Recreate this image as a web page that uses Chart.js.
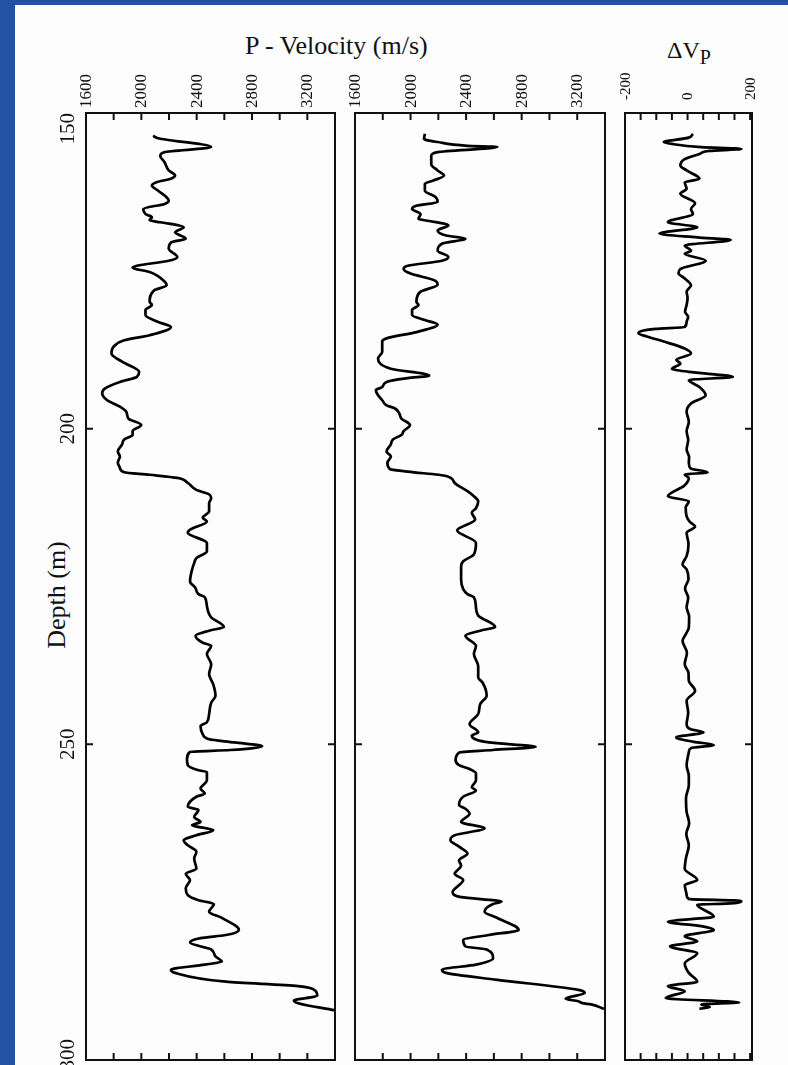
<!DOCTYPE html>
<html>
<head>
<meta charset="utf-8">
<script src="https://cdn.jsdelivr.net/npm/chart.js@4/dist/chart.umd.min.js"></script>
<style>
  html, body { margin:0; padding:0; background:#fdfdfd; }
  body { width:788px; height:1065px; position:relative; overflow:hidden; font-family:'Liberation Serif', serif; color:#000; }
  canvas { position:absolute; top:0; }
  .blue { position:absolute; background:#2451a5; z-index:5; }
  .txt { position:absolute; white-space:nowrap; font-family:'Liberation Serif', serif; color:#111; }
</style>
</head>
<body>
<div class="blue" style="left:0;top:0;width:788px;height:5px"></div>
<div class="blue" style="left:0;top:0;width:15px;height:1065px"></div>

<div class="txt" style="left:245px;top:33px;font-size:26px;line-height:26px">P - Velocity (m/s)</div>
<div class="txt" style="left:667px;top:38px;font-size:24px;line-height:24px">ΔV<span style="font-size:20px;position:relative;top:6px">P</span></div>
<div class="txt" style="left:-43px;top:582px;width:200px;height:26px;font-size:26px;line-height:26px;text-align:center;transform:rotate(-90deg)">Depth (m)</div>

<canvas id="c1" width="345" height="1065" style="left:0"></canvas>
<canvas id="c2" width="270" height="1065" style="left:345px"></canvas>
<canvas id="c3" width="173" height="1065" style="left:615px"></canvas>

<script>
// ---------- DATA ----------
const depthTicks = [150, 200, 250, 300];
const velocityTickLabels = [1600, 2000, 2400, 2800, 3200];
const dvpTickLabels = [-200, 0, 200];

// Panel 1: P-velocity (m/s) vs depth (m)
const depth1 = [153.6,154.0,155.4,156.2,156.8,157.8,159.1,159.9,160.4,161.0,161.5,162.3,163.9,164.4,165.2,166.0,166.5,167.0,167.3,168.1,168.9,169.9,170.5,171.5,172.8,173.4,174.2,174.5,175.2,176.7,177.3,178.1,179.9,180.4,181.2,182.0,183.1,183.9,185.2,186.0,187.0,188.1,189.4,191.0,191.8,192.6,193.6,194.4,195.5,196.5,197.3,198.4,199.4,200.4,201.0,201.7,202.5,203.6,204.4,205.4,206.2,206.9,207.3,207.8,208.6,209.7,210.4,211.0,211.8,213.1,214.1,214.7,216.0,216.5,218.1,219.4,220.5,221.3,222.3,224.2,225.2,226.2,226.7,228.1,229.9,231.4,232.0,232.8,233.9,234.4,235.7,237.3,238.9,240.5,242.3,243.4,245.2,246.5,247.1,248.4,249.2,249.7,250.3,250.9,251.2,252.3,253.3,254.1,254.4,255.7,257.0,257.8,258.3,259.9,260.4,261.5,262.3,262.8,263.6,264.4,265.2,266.0,267.0,268.1,269.7,270.5,271.5,272.8,273.9,274.7,275.3,276.5,277.5,279.4,280.2,280.7,281.4,282.5,283.6,284.4,284.9,285.7,286.2,287.6,288.3,289.0,289.8,290.6,291.0,292.1];
const vel1 = [2085,2120,2505,2168,2137,2168,2198,2244,2214,2106,2076,2122,2198,2168,2014,2030,2076,2060,2137,2306,2244,2321,2214,2198,2260,2198,1968,1937,2060,2168,2183,2091,2060,2076,2030,2030,2122,2214,2060,1876,1800,1784,1861,1984,1968,1845,1738,1717,1753,1845,1891,1907,1999,1937,1937,1876,1861,1830,1845,1830,1845,1876,2060,2260,2336,2398,2490,2505,2490,2490,2444,2474,2352,2336,2474,2474,2398,2382,2367,2352,2390,2413,2459,2474,2505,2597,2490,2392,2444,2505,2474,2505,2490,2520,2536,2505,2490,2474,2428,2444,2490,2674,2873,2643,2352,2330,2336,2413,2474,2474,2428,2459,2398,2336,2413,2382,2428,2367,2520,2398,2306,2336,2398,2382,2398,2321,2352,2321,2336,2413,2525,2490,2582,2705,2612,2428,2352,2505,2536,2582,2459,2214,2244,2612,3134,3257,3272,3103,3134,3395];

// Panel 2: P-velocity (m/s) vs depth (m)
const depth2 = [153.3,154.1,154.6,155.2,155.4,156.2,156.8,158.1,159.1,159.9,160.7,161.2,162.3,163.3,164.1,164.7,165.2,166.0,166.8,167.1,167.8,168.6,169.4,169.9,170.7,171.8,172.8,173.4,174.2,174.7,175.4,176.6,177.2,178.3,179.9,180.4,181.2,182.0,182.8,183.5,184.7,185.7,186.2,187.8,188.9,190.5,191.6,192.0,192.6,193.4,193.9,194.7,195.5,196.3,196.8,197.6,198.4,199.4,200.4,201.0,201.7,202.5,203.6,204.4,205.4,206.4,206.8,207.5,208.6,209.9,210.7,211.5,212.6,213.3,214.4,216.1,218.1,219.9,221.0,221.8,223.9,225.4,226.2,226.7,228.3,229.6,231.4,232.0,232.8,234.4,235.7,237.6,239.4,240.2,242.3,243.6,245.2,246.8,248.1,248.6,249.7,250.4,250.9,251.3,252.5,253.3,253.9,254.6,255.7,256.8,257.3,258.3,259.6,260.2,261.0,262.3,263.3,264.4,265.2,266.2,267.3,268.4,269.2,270.5,271.5,273.4,274.2,274.9,275.3,276.5,277.5,279.4,280.2,281.0,282.0,282.5,283.9,284.9,285.7,286.2,287.3,288.9,289.4,290.3,290.7,291.0,291.2,291.9];
const vel2 = [2103,2097,2195,2410,2625,2195,2149,2149,2195,2241,2164,2103,2103,2180,2195,2042,2011,2072,2057,2134,2272,2195,2256,2395,2226,2195,2272,2226,1980,1950,1996,2180,2195,2072,2042,2057,2011,2011,2103,2195,2042,1827,1796,1796,1766,1858,2134,1980,1827,1796,1750,1766,1796,1827,1888,1919,1934,1996,1950,1934,1873,1858,1827,1858,1833,1852,1980,2256,2318,2410,2456,2487,2471,2441,2465,2335,2471,2456,2379,2364,2364,2379,2410,2456,2471,2487,2609,2502,2395,2471,2456,2487,2487,2518,2548,2502,2487,2425,2487,2441,2564,2901,2594,2349,2324,2349,2425,2471,2471,2441,2471,2379,2349,2395,2425,2364,2533,2318,2287,2349,2410,2349,2364,2318,2379,2303,2364,2655,2594,2533,2625,2778,2564,2379,2395,2548,2594,2471,2226,2256,2625,3208,3254,3116,3208,3238,3300,3392];

// Panel 3: Delta Vp vs depth (m)
const depth3 = [153.3,153.9,154.6,154.9,155.4,155.7,156.0,156.5,157.3,158.3,159.1,160.4,161.0,162.0,162.8,164.3,165.2,166.0,167.3,168.1,169.1,169.7,170.1,171.0,171.8,172.3,173.4,174.7,175.4,176.2,177.3,178.3,179.3,180.4,181.5,182.3,183.1,183.9,184.2,184.9,185.4,186.2,187.3,188.1,189.1,189.7,190.5,191.0,191.8,192.3,193.4,194.7,196.0,197.3,198.9,200.4,201.8,203.3,204.5,205.4,206.3,206.9,207.3,207.8,209.0,210.7,211.5,212.5,213.9,214.8,215.5,216.5,218.3,220.2,221.5,222.3,223.8,225.3,226.8,228.3,229.8,231.5,232.5,233.6,235.5,237.3,238.7,239.9,241.5,243.1,245.0,246.8,247.6,248.1,248.9,249.6,250.1,250.6,251.2,253.3,255.0,256.5,258.5,260.7,262.5,264.2,266.0,268.0,269.7,271.5,272.3,273.9,274.5,274.8,275.2,275.4,277.3,278.1,278.8,279.4,280.4,281.2,282.0,283.1,284.7,286.2,287.6,288.3,289.1,290.2,290.9,291.2,291.6,291.9];
const dvp = [17,4,-76,-50,44,172,71,38,-9,-23,-3,38,-9,-3,-23,24,11,17,-63,31,-90,31,138,-9,11,-9,58,-23,-29,-9,11,-3,0,-3,-8,2,-3,-9,-103,-157,-130,-76,-9,11,-36,-23,-50,4,145,4,38,58,11,-3,4,-3,2,-3,5,4,10,64,-9,4,-10,-63,4,-6,-3,8,24,-3,3,-3,-16,-3,3,-8,2,-3,5,4,-5,-16,-2,-9,3,4,24,-3,2,-3,10,51,-36,20,84,11,4,-3,4,4,-5,-3,5,-4,4,-5,-9,31,-9,-3,4,172,138,31,84,-63,44,84,-9,31,-56,31,-9,4,31,-63,-9,-70,165,44,71,38];

// ---------- CHARTS ----------
const toPoints = (ds, vs) => ds.map((d, i) => ({ x: vs[i], y: d }));

// end labels of the depth axis sit inside the frame, as in the original figure
const depthLabel = v => v === 150 ? String(v) + '      ' : (v === 300 ? '    ' + v + '  ' : '   ' + v + '   ');

const frameTicks = {
  id: 'frameTicks',
  afterDatasetsDraw(chart) {
    const { ctx, chartArea: a, scales } = chart;
    const xs = scales.x, ys = scales.y;
    const L = 7;
    ctx.save();
    ctx.strokeStyle = '#111';
    ctx.lineWidth = 2;
    ctx.beginPath();
    xs.ticks.forEach(t => {
      if (t.value <= xs.min || t.value >= xs.max) return;
      const px = xs.getPixelForValue(t.value);
      ctx.moveTo(px, a.top); ctx.lineTo(px, a.top + L);
      ctx.moveTo(px, a.bottom); ctx.lineTo(px, a.bottom - L);
    });
    depthTicks.forEach(v => {
      if (v <= ys.min || v >= ys.max) return;
      const py = ys.getPixelForValue(v);
      ctx.moveTo(a.left, py); ctx.lineTo(a.left + L, py);
      ctx.moveTo(a.right, py); ctx.lineTo(a.right - L, py);
    });
    ctx.stroke();
    ctx.lineWidth = 2;
    ctx.strokeRect(a.left, a.top, a.right - a.left, a.bottom - a.top);
    ctx.restore();
  }
};

function makeChart(id, pts, xopt, showY, pad) {
  return new Chart(document.getElementById(id), {
    type: 'line',
    data: { datasets: [{ data: pts, borderColor: '#000', borderWidth: 2.7, pointRadius: 0,
      cubicInterpolationMode: 'monotone', fill: false }] },
    options: {
      responsive: false, animation: false, indexAxis: 'y',
      layout: { padding: pad },
      plugins: { legend: { display: false }, tooltip: { enabled: false } },
      scales: {
        x: Object.assign({
          type: 'linear', position: 'top',
          grid: { display: false, drawTicks: false }, border: { display: false },
          afterFit: s => { s.height = 113; s.paddingLeft = 0; s.paddingRight = 0; }
        }, xopt),
        y: {
          type: 'linear', reverse: true, min: 150, max: 300, display: showY,
          grid: { display: false, drawTicks: false }, border: { display: false },
          ticks: { stepSize: 50, autoSkip: false, minRotation: 90, maxRotation: 90, crossAlign: 'center',
            padding: -14, color: '#111', font: { family: 'Liberation Serif', size: 21 },
            callback: v => depthLabel(v) },
          afterFit: s => { s.width = showY ? 86 : 0; s.paddingTop = 0; s.paddingBottom = 0; }
        }
      }
    },
    plugins: [frameTicks]
  });
}

const velTicks = {
  min: 1600, max: 3400,
  ticks: { stepSize: 200, autoSkip: false, minRotation: 90, maxRotation: 90, padding: 5, labelOffset: 21,
    color: '#111', font: { family: 'Liberation Serif', size: 17 },
    callback: v => velocityTickLabels.includes(v) ? String(v) : '' }
};

makeChart('c1', toPoints(depth1, vel1), velTicks, true, { left: 0, top: 0, right: 10, bottom: 5 });
makeChart('c2', toPoints(depth2, vel2), velTicks, false, { left: 10, top: 0, right: 10, bottom: 5 });
makeChart('c3', toPoints(depth3, dvp), {
  min: -200, max: 206,
  ticks: { stepSize: 50, includeBounds: false, autoSkip: false, minRotation: 90, maxRotation: 90, padding: 13, labelOffset: 19,
    color: '#111', font: { family: 'Liberation Serif', size: 15 },
    callback: v => dvpTickLabels.includes(v) ? String(v) : '' }
}, false, { left: 10, top: 0, right: 36, bottom: 5 });
</script>
</body>
</html>
